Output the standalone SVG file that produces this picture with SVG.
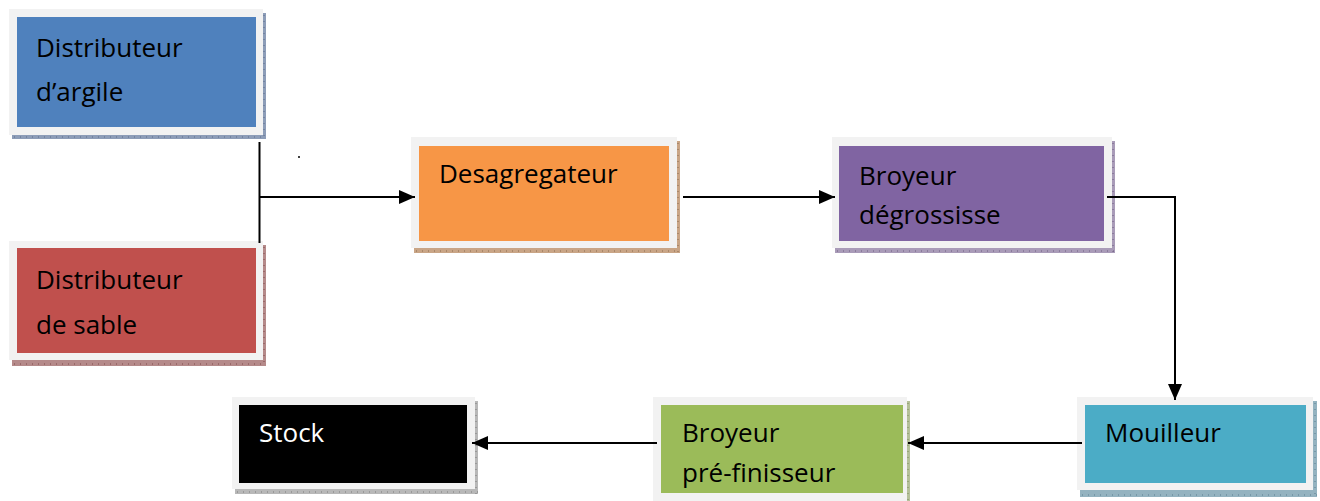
<svg xmlns="http://www.w3.org/2000/svg" width="1320" height="501" viewBox="0 0 1320 501">
<style>
.frame{fill:#f2f2f2}
.lbl{font-family:"Open Sans","Liberation Sans",sans-serif;font-size:26px;fill:#000}
.conn{stroke:#000;stroke-width:2;fill:none}
.tick{stroke-width:1;stroke-dasharray:1 5;fill:none}
</style>
<defs>
<marker id="arr" viewBox="0 0 16 14" refX="16" refY="7" markerWidth="16" markerHeight="14" markerUnits="userSpaceOnUse" orient="auto">
<path d="M0,0 L16,7 L0,14 Z" fill="#000"/>
</marker>
</defs>
<rect width="1320" height="501" fill="#fff"/>

<g id="node-argile">
<rect x="12" y="13" width="254" height="126" fill="#8d9db8"/>
<path class="tick" d="M14,137 H266 M264,15 V139" stroke="#5a6b88"/>
<rect class="frame" x="9" y="9" width="254" height="126"/>
<rect x="17" y="17" width="239" height="110" fill="#4f81bd"/>
<text class="lbl" x="36" y="57">Distributeur</text>
<text class="lbl" x="36" y="101">d’argile</text>
</g>

<g id="node-sable">
<rect x="12" y="245" width="254" height="121" fill="#b58a8a"/>
<path class="tick" d="M14,364 H266 M264,247 V366" stroke="#7e4a4a"/>
<rect class="frame" x="9" y="241" width="254" height="119"/>
<rect x="17" y="248" width="239" height="105" fill="#c0504d"/>
<text class="lbl" x="36" y="289">Distributeur</text>
<text class="lbl" x="36" y="334">de sable</text>
</g>

<g id="node-desagregateur">
<rect x="414" y="141" width="266" height="112" fill="#c9a586"/>
<path class="tick" d="M416,251 H680 M678,143 V253" stroke="#8a6a4f"/>
<rect class="frame" x="411" y="137" width="266" height="111"/>
<rect x="419" y="146" width="250" height="95" fill="#f79646"/>
<text class="lbl" x="439" y="183">Desagregateur</text>
</g>

<g id="node-degrossisse">
<rect x="835" y="141" width="280" height="112" fill="#a99bb8"/>
<path class="tick" d="M837,251 H1115 M1113,143 V253" stroke="#6c5c80"/>
<rect class="frame" x="832" y="137" width="280" height="111"/>
<rect x="839" y="146" width="265" height="95" fill="#8064a2"/>
<text class="lbl" x="859" y="185">Broyeur</text>
<text class="lbl" x="859" y="224">dégrossisse</text>
</g>

<g id="node-mouilleur">
<rect x="1080" y="401" width="237" height="96" fill="#94b3c0"/>
<path class="tick" d="M1082,495 H1317 M1315,403 V497" stroke="#5a7f90"/>
<rect class="frame" x="1077" y="397" width="236" height="93"/>
<rect x="1085" y="405" width="221" height="78" fill="#4bacc6"/>
<text class="lbl" x="1105" y="442">Mouilleur</text>
</g>

<g id="node-prefinisseur">
<rect x="656" y="401" width="254" height="100" fill="#b5c09a"/>
<path class="tick" d="M908,403 V501" stroke="#7a8a5a"/>
<rect class="frame" x="653" y="397" width="254" height="104"/>
<rect x="661" y="405" width="242" height="88" fill="#9bbb59"/>
<text class="lbl" x="682" y="442">Broyeur</text>
<text class="lbl" x="682" y="482">pré-finisseur</text>
</g>

<g id="node-stock">
<rect x="235" y="401" width="243" height="93" fill="#b8b8b8"/>
<path class="tick" d="M237,492 H478 M476,403 V494" stroke="#7a7a7a"/>
<rect class="frame" x="232" y="397" width="243" height="92"/>
<rect x="239" y="405" width="228" height="78" fill="#000"/>
<text class="lbl" x="259" y="442" style="fill:#fff">Stock</text>
</g>

<g id="connectors">
<path class="conn" d="M259.5,142 V243"/>
<path class="conn" d="M259.5,197 H415" marker-end="url(#arr)"/>
<path class="conn" d="M683,197 H835" marker-end="url(#arr)"/>
<path class="conn" d="M1107,197 H1175 V400" marker-end="url(#arr)"/>
<path class="conn" d="M1082,443 H908" marker-end="url(#arr)"/>
<path class="conn" d="M657,443 H472" marker-end="url(#arr)"/>
<circle cx="299" cy="157" r="1" fill="#000"/>
</g>
</svg>
